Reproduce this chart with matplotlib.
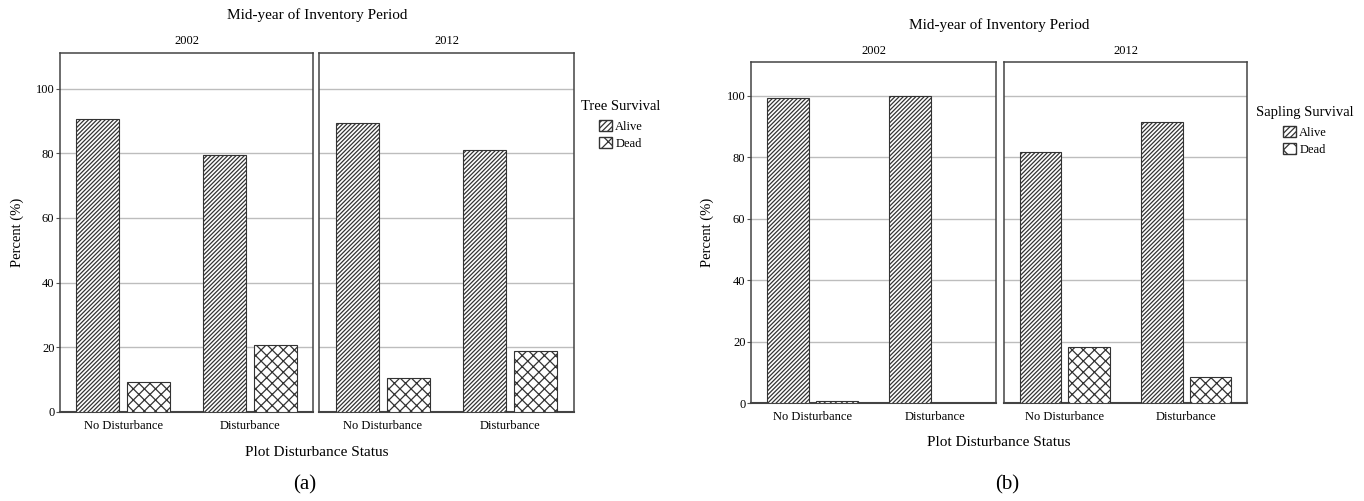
import matplotlib
matplotlib.use("Agg")
import matplotlib.pyplot as plt
from matplotlib.patches import Patch
import numpy as np

# data (percent of stems)
statuses = ["No Disturbance", "Disturbance"]
years = ["2002", "2012"]
groups = ["Alive", "Dead"]

tree_alive = {"2002": [90.7, 79.4], "2012": [89.4, 81.0]}
tree_dead = {"2002": [9.3, 20.6], "2012": [10.6, 19.0]}

sapling_alive = {"2002": [99.3, 100.0], "2012": [81.8, 91.5]}
sapling_dead = {"2002": [0.7, 0.0], "2012": [18.2, 8.5]}

yticks = [0, 20, 40, 60, 80, 100]

plt.rcParams["font.family"] = ["Liberation Serif", "DejaVu Serif"]
plt.rcParams["hatch.linewidth"] = 0.9
plt.rcParams["hatch.color"] = "#1a1a1a"

W, H = 1364, 501
fig = plt.figure(figsize=(W / 100, H / 100), dpi=100)


def box(x0, y0, x1, y1):
    # pixel box (top-left origin) -> figure fraction rect
    return [x0 / W, 1 - y1 / H, (x1 - x0) / W, (y1 - y0) / H]


def panel(alive, dead, axes_px, title_y, year_y, label_y, tick_pad, legend_title,
          legend_xy, letter, letter_x, ylabel_x):
    for i, yr in enumerate(years):
        ax = fig.add_axes(box(*axes_px[i]))
        x = np.arange(len(statuses))
        ax.bar(x - 0.2, alive[yr], width=0.34, color="white", edgecolor="#333333",
               linewidth=0.8, hatch="////////", zorder=3)
        d = np.array(dead[yr])
        ax.bar(x[d > 0] + 0.2, d[d > 0], width=0.34, color="white", edgecolor="#333333",
               linewidth=0.8, hatch="xxx", zorder=3)
        ax.set_xlim(-0.5, 1.5)
        ax.set_ylim(0, 111)
        ax.set_yticks(yticks)
        ax.yaxis.grid(True, color="#bdbdbd", linewidth=1.0, zorder=0)
        ax.set_xticks(x)
        ax.set_xticklabels(statuses, fontsize=9)
        ax.tick_params(axis="x", length=0, pad=tick_pad)
        ax.tick_params(axis="y", length=3, width=0.8, labelsize=9, pad=1, color="#555555")
        if i == 1:
            ax.tick_params(axis="y", length=0, labelleft=False)
        for s in ax.spines.values():
            s.set_color("#444444")
            s.set_linewidth(1.1)
        ax.spines["bottom"].set_linewidth(1.5)
        x0, y0, x1, y1 = axes_px[i]
        fig.text((x0 + x1) / 2 / W, 1 - year_y / H, yr, ha="center", va="center", fontsize=9)

    xl = axes_px[0][0]
    xr = axes_px[1][2]
    xc = (xl + xr) / 2
    yc = (axes_px[0][1] + axes_px[0][3]) / 2
    fig.text(xc / W, 1 - title_y / H, "Mid-year of Inventory Period", ha="center",
             va="center", fontsize=11)
    fig.text(xc / W, 1 - label_y / H, "Plot Disturbance Status", ha="center",
             va="center", fontsize=11)
    fig.text(ylabel_x / W, 1 - yc / H, "Percent (%)", ha="center", va="center",
             rotation=90, fontsize=10.5)
    fig.text(letter_x / W, 1 - 485 / H, letter, ha="center", va="center", fontsize=15)

    handles = [Patch(facecolor="white", edgecolor="#333333", hatch="//////", label="Alive"),
               Patch(facecolor="white", edgecolor="#333333", hatch="xx", label="Dead")]
    leg = fig.legend(handles=handles, title=legend_title, loc="upper center",
                     bbox_to_anchor=(legend_xy[0] / W, 1 - legend_xy[1] / H),
                     frameon=False, fontsize=9, title_fontsize=10.5,
                     handlelength=1.0, handleheight=1.0, handletextpad=0.3,
                     labelspacing=0.3, borderpad=0.0)
    leg._legend_box.sep = 5


panel(tree_alive, tree_dead,
      [(60, 53, 313, 412), (319, 53, 574, 412)],
      title_y=15, year_y=41, label_y=452, tick_pad=6,
      legend_title="Tree Survival", legend_xy=(621, 94),
      letter="(a)", letter_x=305, ylabel_x=17)

panel(sapling_alive, sapling_dead,
      [(751, 62, 996, 403), (1004, 62, 1247, 403)],
      title_y=25, year_y=51, label_y=443, tick_pad=6,
      legend_title="Sapling Survival", legend_xy=(1305, 100),
      letter="(b)", letter_x=1007, ylabel_x=707)

fig.savefig("out.png", dpi=100)
